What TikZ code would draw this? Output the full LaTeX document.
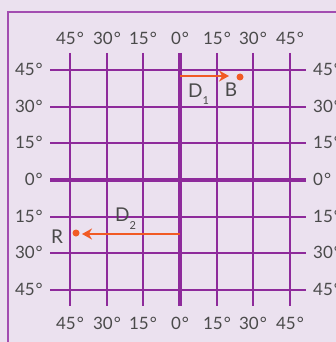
\documentclass[tikz,border=0pt]{standalone}
\usepackage{fontspec}
\setmainfont{Lato}
\usepackage{xcolor}
\usetikzlibrary{arrows.meta}

\definecolor{bgpurple}{HTML}{EBE1EF}
\definecolor{gridpurple}{HTML}{8E2A9B}
\definecolor{framepurple}{HTML}{A34DB1}
\definecolor{arroworange}{HTML}{F15A24}
\definecolor{labelgray}{HTML}{4A4A4A}

\newcommand{\lowsub}[1]{\raisebox{-8pt}{\fontsize{11}{11}\selectfont #1}}

\tikzset{
  gridline/.style={gridpurple, line width=2.4pt},
  axisline/.style={gridpurple, line width=4pt},
  deglabel/.style={text=labelgray, inner sep=0pt, font=\fontsize{17}{20}\selectfont},
  pointlabel/.style={text=labelgray, inner sep=0pt, font=\fontsize{19}{22}\selectfont},
  shiftarrow/.style={arroworange, line width=2.2pt, -{Stealth[length=10pt,width=11pt]}},
  spot/.style={circle, fill=arroworange, inner sep=0pt, minimum size=7pt}
}

\begin{document}
\begin{tikzpicture}[x=1pt, y=-1pt]
    \useasboundingbox (0,0) rectangle (336,342);
    \fill[bgpurple] (0,0) rectangle (336,342);
    \draw[framepurple, line width=1.5pt] (8,350) -- (8,12) -- (345,12);

    % grid
    \foreach \p in {70,107,143,217,253,290} {
        \draw[gridline] (\p,53) -- (\p,306);
        \draw[gridline] (50,\p) -- (306,\p);
    }
    \draw[axisline] (180,53) -- (180,306);
    \draw[axisline] (50,180) -- (306,180);

    % degree labels
    \foreach \p/\t [count=\k] in {70/45,107/30,143/15,180/0,217/15,253/30,290/45} {
        \node[deglabel] (top\k) at (\p,38) {\t\kern1pt°};
        \node[deglabel] (bot\k) at (\p,323) {\t\kern1pt°};
        \node[deglabel, anchor=east] (lft\k) at (43,\p-1) {\t\kern1pt°};
        \node[deglabel, anchor=west] (rgt\k) at (313,\p-1) {\t\kern1pt°};
    }

    % shifts
    \coordinate (o1) at (180,76);
    \coordinate (o2) at (180,234);
    \node[spot] (b) at (240,77) {};
    \node[spot] (r) at (76,233) {};
    \coordinate (b1) at (229,76);
    \coordinate (r1) at (82,234);
    \draw[shiftarrow] (o1) -- (b1);
    \draw[shiftarrow] (o2) -- (r1);

    \node[pointlabel, anchor=base west] (d1) at (188,97) {D\lowsub{1}};
    \node[pointlabel] (bl) at (231,90) {B};
    \node[pointlabel, anchor=base west] (d2) at (115,221) {D\lowsub{2}};
    \node[pointlabel] (rl) at (57,237) {R};
\end{tikzpicture}
\end{document}
